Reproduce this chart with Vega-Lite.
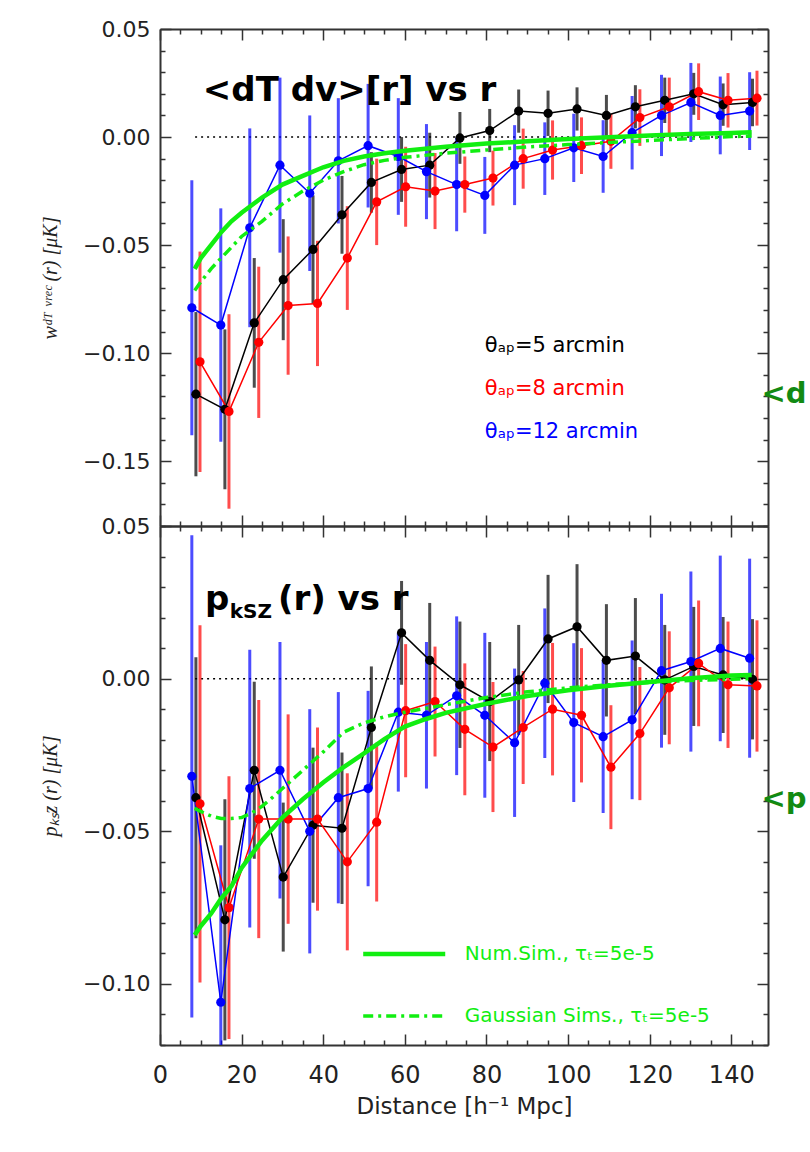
{
  "$schema": "https://vega.github.io/schema/vega-lite/v6.json",
  "background": "white",
  "padding": {"left": 40, "top": 18, "right": 0, "bottom": 5},
  "config": {"view": {"stroke": null}, "font": "DejaVu Sans", "axis": {"grid": false}},
  "spacing": 0,
  "bounds": "flush",
  "datasets": {
    "ptsTop": [
      {"series": "5", "r": 8.8, "v": -0.119, "err": 0.038},
      {"series": "5", "r": 15.9, "v": -0.126, "err": 0.037},
      {"series": "5", "r": 23.1, "v": -0.086, "err": 0.030},
      {"series": "5", "r": 30.2, "v": -0.066, "err": 0.028},
      {"series": "5", "r": 37.5, "v": -0.052, "err": 0.025},
      {"series": "5", "r": 44.6, "v": -0.036, "err": 0.018},
      {"series": "5", "r": 51.8, "v": -0.021, "err": 0.014},
      {"series": "5", "r": 59.2, "v": -0.015, "err": 0.015},
      {"series": "5", "r": 66.1, "v": -0.013, "err": 0.015},
      {"series": "5", "r": 73.5, "v": -0.0004, "err": 0.012},
      {"series": "5", "r": 80.8, "v": 0.003, "err": 0.010},
      {"series": "5", "r": 87.9, "v": 0.012, "err": 0.010},
      {"series": "5", "r": 95.1, "v": 0.011, "err": 0.0105},
      {"series": "5", "r": 102.2, "v": 0.013, "err": 0.010},
      {"series": "5", "r": 109.4, "v": 0.010, "err": 0.0095},
      {"series": "5", "r": 116.5, "v": 0.014, "err": 0.010},
      {"series": "5", "r": 123.7, "v": 0.017, "err": 0.0105},
      {"series": "5", "r": 130.8, "v": 0.020, "err": 0.0097},
      {"series": "5", "r": 138.0, "v": 0.015, "err": 0.0098},
      {"series": "5", "r": 145.2, "v": 0.016, "err": 0.011},
      {"series": "12", "r": 7.8, "v": -0.079, "err": 0.059},
      {"series": "12", "r": 14.9, "v": -0.087, "err": 0.054},
      {"series": "12", "r": 22.0, "v": -0.042, "err": 0.046},
      {"series": "12", "r": 29.4, "v": -0.013, "err": 0.0405},
      {"series": "12", "r": 36.7, "v": -0.026, "err": 0.036},
      {"series": "12", "r": 43.7, "v": -0.011, "err": 0.029},
      {"series": "12", "r": 51.0, "v": -0.004, "err": 0.0286},
      {"series": "12", "r": 58.4, "v": -0.009, "err": 0.027},
      {"series": "12", "r": 65.3, "v": -0.016, "err": 0.022},
      {"series": "12", "r": 72.7, "v": -0.022, "err": 0.0216},
      {"series": "12", "r": 79.6, "v": -0.027, "err": 0.0178},
      {"series": "12", "r": 86.9, "v": -0.013, "err": 0.0185},
      {"series": "12", "r": 94.3, "v": -0.010, "err": 0.0168},
      {"series": "12", "r": 101.4, "v": -0.005, "err": 0.0158},
      {"series": "12", "r": 108.6, "v": -0.009, "err": 0.0168},
      {"series": "12", "r": 115.7, "v": 0.002, "err": 0.017},
      {"series": "12", "r": 122.9, "v": 0.010, "err": 0.0188},
      {"series": "12", "r": 130.1, "v": 0.016, "err": 0.0183},
      {"series": "12", "r": 137.3, "v": 0.010, "err": 0.018},
      {"series": "12", "r": 144.5, "v": 0.012, "err": 0.018},
      {"series": "8", "r": 9.8, "v": -0.104, "err": 0.051},
      {"series": "8", "r": 16.9, "v": -0.127, "err": 0.045},
      {"series": "8", "r": 24.2, "v": -0.095, "err": 0.035},
      {"series": "8", "r": 31.4, "v": -0.078, "err": 0.032},
      {"series": "8", "r": 38.6, "v": -0.077, "err": 0.029},
      {"series": "8", "r": 45.9, "v": -0.056, "err": 0.024},
      {"series": "8", "r": 53.1, "v": -0.030, "err": 0.020},
      {"series": "8", "r": 60.2, "v": -0.023, "err": 0.0185},
      {"series": "8", "r": 67.4, "v": -0.025, "err": 0.0176},
      {"series": "8", "r": 74.7, "v": -0.022, "err": 0.013},
      {"series": "8", "r": 81.6, "v": -0.019, "err": 0.0127},
      {"series": "8", "r": 89.0, "v": -0.010, "err": 0.0139},
      {"series": "8", "r": 96.2, "v": -0.006, "err": 0.0137},
      {"series": "8", "r": 103.3, "v": -0.004, "err": 0.0131},
      {"series": "8", "r": 110.5, "v": -0.002, "err": 0.0127},
      {"series": "8", "r": 117.6, "v": 0.009, "err": 0.0131},
      {"series": "8", "r": 124.8, "v": 0.014, "err": 0.0135},
      {"series": "8", "r": 132.0, "v": 0.021, "err": 0.0131},
      {"series": "8", "r": 139.2, "v": 0.017, "err": 0.0126},
      {"series": "8", "r": 146.3, "v": 0.018, "err": 0.0127}
    ],
    "ptsBot": [
      {"series": "5", "r": 8.8, "v": -0.039, "err": 0.046},
      {"series": "5", "r": 15.9, "v": -0.079, "err": 0.0395},
      {"series": "5", "r": 23.1, "v": -0.030, "err": 0.029},
      {"series": "5", "r": 30.2, "v": -0.065, "err": 0.0244},
      {"series": "5", "r": 37.5, "v": -0.048, "err": 0.0254},
      {"series": "5", "r": 44.6, "v": -0.049, "err": 0.0248},
      {"series": "5", "r": 51.8, "v": -0.016, "err": 0.020},
      {"series": "5", "r": 59.2, "v": 0.015, "err": 0.017},
      {"series": "5", "r": 66.1, "v": 0.006, "err": 0.0188},
      {"series": "5", "r": 73.5, "v": -0.002, "err": 0.0207},
      {"series": "5", "r": 80.8, "v": -0.0075, "err": 0.0195},
      {"series": "5", "r": 87.9, "v": -0.0004, "err": 0.018},
      {"series": "5", "r": 95.1, "v": 0.013, "err": 0.021},
      {"series": "5", "r": 102.2, "v": 0.017, "err": 0.0205},
      {"series": "5", "r": 109.4, "v": 0.006, "err": 0.0184},
      {"series": "5", "r": 116.5, "v": 0.0074, "err": 0.019},
      {"series": "5", "r": 123.7, "v": -0.0004, "err": 0.018},
      {"series": "5", "r": 130.8, "v": 0.004, "err": 0.0195},
      {"series": "5", "r": 138.0, "v": 0.0012, "err": 0.019},
      {"series": "5", "r": 145.2, "v": -0.0002, "err": 0.0197},
      {"series": "12", "r": 7.8, "v": -0.032, "err": 0.079},
      {"series": "12", "r": 14.9, "v": -0.106, "err": 0.0514},
      {"series": "12", "r": 22.0, "v": -0.036, "err": 0.0455},
      {"series": "12", "r": 29.4, "v": -0.030, "err": 0.042},
      {"series": "12", "r": 36.7, "v": -0.050, "err": 0.040},
      {"series": "12", "r": 43.7, "v": -0.039, "err": 0.0346},
      {"series": "12", "r": 51.0, "v": -0.036, "err": 0.032},
      {"series": "12", "r": 58.4, "v": -0.011, "err": 0.026},
      {"series": "12", "r": 65.3, "v": -0.012, "err": 0.024},
      {"series": "12", "r": 72.7, "v": -0.0056, "err": 0.026},
      {"series": "12", "r": 79.6, "v": -0.012, "err": 0.027},
      {"series": "12", "r": 86.9, "v": -0.021, "err": 0.0243},
      {"series": "12", "r": 94.3, "v": -0.0015, "err": 0.0245},
      {"series": "12", "r": 101.4, "v": -0.0144, "err": 0.026},
      {"series": "12", "r": 108.6, "v": -0.019, "err": 0.025},
      {"series": "12", "r": 115.7, "v": -0.0135, "err": 0.026},
      {"series": "12", "r": 122.9, "v": 0.0026, "err": 0.0252},
      {"series": "12", "r": 130.1, "v": 0.0056, "err": 0.0295},
      {"series": "12", "r": 137.3, "v": 0.0099, "err": 0.0304},
      {"series": "12", "r": 144.5, "v": 0.0067, "err": 0.0326},
      {"series": "8", "r": 9.8, "v": -0.041, "err": 0.0585},
      {"series": "8", "r": 16.9, "v": -0.075, "err": 0.043},
      {"series": "8", "r": 24.2, "v": -0.046, "err": 0.039},
      {"series": "8", "r": 31.4, "v": -0.046, "err": 0.0343},
      {"series": "8", "r": 38.6, "v": -0.046, "err": 0.030},
      {"series": "8", "r": 45.9, "v": -0.060, "err": 0.029},
      {"series": "8", "r": 53.1, "v": -0.047, "err": 0.026},
      {"series": "8", "r": 60.2, "v": -0.0105, "err": 0.0218},
      {"series": "8", "r": 67.4, "v": -0.0075, "err": 0.018},
      {"series": "8", "r": 74.7, "v": -0.0166, "err": 0.0216},
      {"series": "8", "r": 81.6, "v": -0.0224, "err": 0.0213},
      {"series": "8", "r": 89.0, "v": -0.016, "err": 0.0185},
      {"series": "8", "r": 96.2, "v": -0.010, "err": 0.0217},
      {"series": "8", "r": 103.3, "v": -0.012, "err": 0.022},
      {"series": "8", "r": 110.5, "v": -0.029, "err": 0.0203},
      {"series": "8", "r": 117.6, "v": -0.018, "err": 0.0218},
      {"series": "8", "r": 124.8, "v": -0.003, "err": 0.0185},
      {"series": "8", "r": 132.0, "v": 0.005, "err": 0.0206},
      {"series": "8", "r": 139.2, "v": -0.002, "err": 0.0207},
      {"series": "8", "r": 146.3, "v": -0.0024, "err": 0.0215}
    ],
    "numTop": [
      {"r": 8.5, "v": -0.061}, {"r": 10, "v": -0.056}, {"r": 12.5, "v": -0.050}, {"r": 15, "v": -0.044},
      {"r": 17.5, "v": -0.039}, {"r": 20, "v": -0.035}, {"r": 25, "v": -0.028}, {"r": 30, "v": -0.022},
      {"r": 35, "v": -0.018}, {"r": 40, "v": -0.014}, {"r": 45, "v": -0.011}, {"r": 50, "v": -0.009},
      {"r": 55, "v": -0.0075}, {"r": 60, "v": -0.0063}, {"r": 70, "v": -0.0045}, {"r": 80, "v": -0.003},
      {"r": 90, "v": -0.002}, {"r": 100, "v": -0.0009}, {"r": 110, "v": -0.0001}, {"r": 120, "v": 0.0007},
      {"r": 130, "v": 0.0014}, {"r": 140, "v": 0.0019}, {"r": 145, "v": 0.0022}
    ],
    "gaussTop": [
      {"r": 8.5, "v": -0.071}, {"r": 10, "v": -0.067}, {"r": 12.5, "v": -0.061}, {"r": 15, "v": -0.056},
      {"r": 17.5, "v": -0.051}, {"r": 20, "v": -0.046}, {"r": 25, "v": -0.039}, {"r": 30, "v": -0.031},
      {"r": 35, "v": -0.025}, {"r": 40, "v": -0.020}, {"r": 45, "v": -0.016}, {"r": 50, "v": -0.0128},
      {"r": 55, "v": -0.0108}, {"r": 60, "v": -0.0094}, {"r": 70, "v": -0.0075}, {"r": 80, "v": -0.006},
      {"r": 90, "v": -0.0046}, {"r": 100, "v": -0.0035}, {"r": 110, "v": -0.0025}, {"r": 120, "v": -0.0016},
      {"r": 130, "v": -0.0007}, {"r": 140, "v": 0.0002}, {"r": 145, "v": 0.0005}
    ],
    "numBot": [
      {"r": 8.5, "v": -0.084}, {"r": 10, "v": -0.081}, {"r": 12.5, "v": -0.077}, {"r": 15, "v": -0.072},
      {"r": 17.5, "v": -0.068}, {"r": 20, "v": -0.062}, {"r": 25, "v": -0.053}, {"r": 30, "v": -0.0455},
      {"r": 35, "v": -0.0395}, {"r": 40, "v": -0.034}, {"r": 45, "v": -0.029}, {"r": 50, "v": -0.0245},
      {"r": 55, "v": -0.0198}, {"r": 60, "v": -0.0157}, {"r": 65, "v": -0.0133}, {"r": 70, "v": -0.0112},
      {"r": 80, "v": -0.0082}, {"r": 90, "v": -0.0057}, {"r": 100, "v": -0.0038}, {"r": 110, "v": -0.0023},
      {"r": 120, "v": -0.0011}, {"r": 130, "v": 0.0001}, {"r": 140, "v": 0.001}, {"r": 145, "v": 0.0012}
    ],
    "gaussBot": [
      {"r": 8.5, "v": -0.0425}, {"r": 10, "v": -0.0435}, {"r": 12.5, "v": -0.045}, {"r": 15, "v": -0.0458},
      {"r": 17.5, "v": -0.0458}, {"r": 20, "v": -0.0455}, {"r": 22.5, "v": -0.044}, {"r": 25, "v": -0.0418},
      {"r": 27.5, "v": -0.039}, {"r": 30, "v": -0.036}, {"r": 35, "v": -0.030}, {"r": 40, "v": -0.024},
      {"r": 45, "v": -0.0175}, {"r": 50, "v": -0.0145}, {"r": 55, "v": -0.0125}, {"r": 60, "v": -0.011},
      {"r": 70, "v": -0.0085}, {"r": 80, "v": -0.0062}, {"r": 90, "v": -0.0043}, {"r": 100, "v": -0.003},
      {"r": 110, "v": -0.002}, {"r": 120, "v": -0.0012}, {"r": 130, "v": -0.0006}, {"r": 140, "v": -0.0002},
      {"r": 145, "v": 0}
    ]
  },
  "vconcat": [
    {
      "width": 608,
      "height": 497,
      "resolve": {"axis": {"x": "independent", "y": "independent"}},
      "layer": [
        {
          "data": {"values": [{}]},
          "mark": {"type": "rule", "color": "#000", "strokeWidth": 1.5, "strokeDash": [2, 4]},
          "encoding": {
            "x": {"datum": 8.6, "type": "quantitative", "scale": {"domain": [0, 149], "nice": false, "zero": false}, "axis": null},
            "x2": {"datum": 145},
            "y": {"datum": 0, "type": "quantitative", "scale": {"domain": [-0.18, 0.05], "nice": false, "zero": false, "clamp": true}, "axis": null}
          }
        },
        {
          "data": {"name": "ptsTop"},
          "mark": {"type": "errorbar", "ticks": false, "thickness": 3, "rule": {"opacity": 0.7}},
          "encoding": {
            "x": {"field": "r", "type": "quantitative", "axis": null},
            "y": {"field": "v", "type": "quantitative", "axis": null},
            "yError": {"field": "err"},
            "color": {"field": "series", "type": "nominal", "scale": {"domain": ["5", "8", "12"], "range": ["#000000", "#ff0000", "#0000ff"]}, "legend": null}
          }
        },
        {
          "data": {"name": "ptsTop"},
          "mark": {"type": "line", "strokeWidth": 1.5},
          "encoding": {
            "x": {"field": "r", "type": "quantitative", "axis": {"orient": "bottom", "values": [0,5,10,15,20,25,30,35,40,45,50,55,60,65,70,75,80,85,90,95,100,105,110,115,120,125,130,135,140,145], "labels": false, "title": null, "domain": true, "domainColor": "#333", "domainWidth": 2, "ticks": true, "tickColor": "#333", "tickWidth": 1.5, "tickSize": {"condition": {"test": "datum.value % 20 == 0", "value": -11}, "value": -5}}},
            "y": {"field": "v", "type": "quantitative", "axis": {"orient": "left", "values": [-0.18,-0.17,-0.16,-0.15,-0.14,-0.13,-0.12,-0.11,-0.1,-0.09,-0.08,-0.07,-0.06,-0.05,-0.04,-0.03,-0.02,-0.01,0,0.01,0.02,0.03,0.04,0.05], "labels": false, "title": null, "domain": true, "domainColor": "#333", "domainWidth": 2, "ticks": true, "tickColor": "#333", "tickWidth": 1.5, "tickSize": {"condition": {"test": "abs(round(datum.value*100)) % 5 == 0", "value": -11}, "value": -5}}},
            "color": {"field": "series", "type": "nominal", "legend": null}
          }
        },
        {
          "data": {"name": "ptsTop"},
          "mark": {"type": "circle", "size": 85, "opacity": 1},
          "encoding": {
            "x": {"field": "r", "type": "quantitative", "axis": {"orient": "top", "values": [0,5,10,15,20,25,30,35,40,45,50,55,60,65,70,75,80,85,90,95,100,105,110,115,120,125,130,135,140,145], "labels": false, "title": null, "domain": true, "domainColor": "#333", "domainWidth": 2, "ticks": true, "tickColor": "#333", "tickWidth": 1.5, "tickSize": {"condition": {"test": "datum.value % 20 == 0", "value": -11}, "value": -5}}},
            "y": {"field": "v", "type": "quantitative", "axis": {"orient": "right", "values": [-0.18,-0.17,-0.16,-0.15,-0.14,-0.13,-0.12,-0.11,-0.1,-0.09,-0.08,-0.07,-0.06,-0.05,-0.04,-0.03,-0.02,-0.01,0,0.01,0.02,0.03,0.04,0.05], "labels": false, "title": null, "domain": true, "domainColor": "#333", "domainWidth": 2, "ticks": true, "tickColor": "#333", "tickWidth": 1.5, "tickSize": {"condition": {"test": "abs(round(datum.value*100)) % 5 == 0", "value": -11}, "value": -5}}},
            "color": {"field": "series", "type": "nominal", "legend": null}
          }
        },
        {
          "data": {"name": "numTop"},
          "mark": {"type": "line", "color": "#11ee11", "strokeWidth": 4.5},
          "encoding": {
            "x": {"field": "r", "type": "quantitative", "axis": null},
            "y": {"field": "v", "type": "quantitative", "axis": {"orient": "left", "values": [-0.15, -0.1, -0.05, 0, 0.05], "format": ".2f", "ticks": false, "domain": false, "labelFont": "DejaVu Sans", "labelFontSize": 22, "labelColor": "#222", "labelPadding": 10, "labelOverlap": false, "labelFlush": false, "title": "wᵈᵀ ᵛʳᵉᶜ (r) [μK]", "titleFont": "Liberation Serif", "titleFontSize": 20, "titleFontStyle": "italic", "titleFontWeight": "normal", "titleColor": "#222", "titlePadding": 22}}
          }
        },
        {
          "data": {"name": "gaussTop"},
          "mark": {"type": "line", "color": "#11ee11", "strokeWidth": 3.5, "strokeDash": [10, 5, 3, 5]},
          "encoding": {
            "x": {"field": "r", "type": "quantitative", "axis": null},
            "y": {"field": "v", "type": "quantitative", "axis": null}
          }
        },
        {
          "data": {"values": [{}]},
          "mark": {"type": "text", "text": "<dT dv>[r] vs r", "align": "left", "baseline": "alphabetic", "font": "DejaVu Sans", "fontSize": 34, "fontWeight": "bold", "color": "#000"},
          "encoding": {"x": {"datum": 10.5, "type": "quantitative", "axis": null}, "y": {"datum": 0.0168, "type": "quantitative", "axis": null}}
        },
        {
          "data": {"values": [{}]},
          "mark": {"type": "text", "text": "θₐₚ=5 arcmin", "align": "left", "baseline": "middle", "font": "DejaVu Sans", "fontSize": 21, "color": "#000"},
          "encoding": {"x": {"datum": 79.6, "type": "quantitative", "axis": null}, "y": {"datum": -0.0966, "type": "quantitative", "axis": null}}
        },
        {
          "data": {"values": [{}]},
          "mark": {"type": "text", "text": "θₐₚ=8 arcmin", "align": "left", "baseline": "middle", "font": "DejaVu Sans", "fontSize": 21, "color": "#ff0000"},
          "encoding": {"x": {"datum": 79.6, "type": "quantitative", "axis": null}, "y": {"datum": -0.1166, "type": "quantitative", "axis": null}}
        },
        {
          "data": {"values": [{}]},
          "mark": {"type": "text", "text": "θₐₚ=12 arcmin", "align": "left", "baseline": "middle", "font": "DejaVu Sans", "fontSize": 21, "color": "#0000ff"},
          "encoding": {"x": {"datum": 79.6, "type": "quantitative", "axis": null}, "y": {"datum": -0.1367, "type": "quantitative", "axis": null}}
        },
        {
          "data": {"values": [{}]},
          "mark": {"type": "text", "text": "<d", "align": "left", "baseline": "alphabetic", "font": "DejaVu Sans", "fontSize": 29, "fontWeight": "bold", "color": "#128a12"},
          "encoding": {"x": {"datum": 147.4, "type": "quantitative", "axis": null}, "y": {"datum": -0.123, "type": "quantitative", "axis": null}}
        }
      ]
    },
    {
      "width": 608,
      "height": 519,
      "resolve": {"axis": {"x": "independent", "y": "independent"}},
      "layer": [
        {
          "data": {"values": [{}]},
          "mark": {"type": "rule", "color": "#000", "strokeWidth": 1.5, "strokeDash": [2, 4]},
          "encoding": {
            "x": {"datum": 8.6, "type": "quantitative", "scale": {"domain": [0, 149], "nice": false, "zero": false}, "axis": null},
            "x2": {"datum": 145},
            "y": {"datum": 0, "type": "quantitative", "scale": {"domain": [-0.12, 0.05], "nice": false, "zero": false, "clamp": true}, "axis": null}
          }
        },
        {
          "data": {"name": "ptsBot"},
          "mark": {"type": "errorbar", "ticks": false, "thickness": 3, "rule": {"opacity": 0.7}},
          "encoding": {
            "x": {"field": "r", "type": "quantitative", "axis": null},
            "y": {"field": "v", "type": "quantitative", "axis": null},
            "yError": {"field": "err"},
            "color": {"field": "series", "type": "nominal", "scale": {"domain": ["5", "8", "12"], "range": ["#000000", "#ff0000", "#0000ff"]}, "legend": null}
          }
        },
        {
          "data": {"name": "ptsBot"},
          "mark": {"type": "line", "strokeWidth": 1.5},
          "encoding": {
            "x": {"field": "r", "type": "quantitative", "axis": {"orient": "bottom", "values": [0,5,10,15,20,25,30,35,40,45,50,55,60,65,70,75,80,85,90,95,100,105,110,115,120,125,130,135,140,145], "labels": false, "title": null, "domain": true, "domainColor": "#333", "domainWidth": 2, "ticks": true, "tickColor": "#333", "tickWidth": 1.5, "tickSize": {"condition": {"test": "datum.value % 20 == 0", "value": -11}, "value": -5}}},
            "y": {"field": "v", "type": "quantitative", "axis": {"orient": "left", "values": [-0.12,-0.11,-0.1,-0.09,-0.08,-0.07,-0.06,-0.05,-0.04,-0.03,-0.02,-0.01,0,0.01,0.02,0.03,0.04,0.05], "labels": false, "title": null, "domain": true, "domainColor": "#333", "domainWidth": 2, "ticks": true, "tickColor": "#333", "tickWidth": 1.5, "tickSize": {"condition": {"test": "abs(round(datum.value*100)) % 5 == 0", "value": -11}, "value": -5}}},
            "color": {"field": "series", "type": "nominal", "legend": null}
          }
        },
        {
          "data": {"name": "ptsBot"},
          "mark": {"type": "circle", "size": 85, "opacity": 1},
          "encoding": {
            "x": {"field": "r", "type": "quantitative", "axis": {"orient": "top", "values": [0,5,10,15,20,25,30,35,40,45,50,55,60,65,70,75,80,85,90,95,100,105,110,115,120,125,130,135,140,145], "labels": false, "title": null, "domain": true, "domainColor": "#333", "domainWidth": 2, "ticks": true, "tickColor": "#333", "tickWidth": 1.5, "tickSize": {"condition": {"test": "datum.value % 20 == 0", "value": -11}, "value": -5}}},
            "y": {"field": "v", "type": "quantitative", "axis": {"orient": "right", "values": [-0.12,-0.11,-0.1,-0.09,-0.08,-0.07,-0.06,-0.05,-0.04,-0.03,-0.02,-0.01,0,0.01,0.02,0.03,0.04,0.05], "labels": false, "title": null, "domain": true, "domainColor": "#333", "domainWidth": 2, "ticks": true, "tickColor": "#333", "tickWidth": 1.5, "tickSize": {"condition": {"test": "abs(round(datum.value*100)) % 5 == 0", "value": -11}, "value": -5}}},
            "color": {"field": "series", "type": "nominal", "legend": null}
          }
        },
        {
          "data": {"name": "numBot"},
          "mark": {"type": "line", "color": "#11ee11", "strokeWidth": 4.5},
          "encoding": {
            "x": {"field": "r", "type": "quantitative", "axis": {"orient": "bottom", "values": [0, 20, 40, 60, 80, 100, 120, 140], "format": "d", "ticks": false, "domain": false, "labelFont": "DejaVu Sans", "labelFontSize": 24, "labelColor": "#222", "labelPadding": 18, "labelFlush": false, "labelOverlap": false, "title": "Distance [h⁻¹ Mpc]", "titleFont": "DejaVu Sans", "titleFontSize": 23, "titleFontWeight": "normal", "titleColor": "#222", "titlePadding": 8}},
            "y": {"field": "v", "type": "quantitative", "axis": {"orient": "left", "values": [-0.1, -0.05, 0, 0.05], "format": ".2f", "ticks": false, "domain": false, "labelFont": "DejaVu Sans", "labelFontSize": 22, "labelColor": "#222", "labelPadding": 10, "labelOverlap": false, "labelFlush": false, "title": "pₖₛz (r) [μK]", "titleFont": "Liberation Serif", "titleFontSize": 20, "titleFontStyle": "italic", "titleFontWeight": "normal", "titleColor": "#222", "titlePadding": 22}}
          }
        },
        {
          "data": {"name": "gaussBot"},
          "mark": {"type": "line", "color": "#11ee11", "strokeWidth": 3.5, "strokeDash": [10, 5, 3, 5]},
          "encoding": {
            "x": {"field": "r", "type": "quantitative", "axis": null},
            "y": {"field": "v", "type": "quantitative", "axis": null}
          }
        },
        {
          "data": {"values": [{}]},
          "mark": {"type": "text", "text": "p", "align": "left", "baseline": "alphabetic", "font": "DejaVu Sans", "fontSize": 34, "fontWeight": "bold", "color": "#000"},
          "encoding": {"x": {"datum": 11.0, "type": "quantitative", "axis": null}, "y": {"datum": 0.0225, "type": "quantitative", "axis": null}}
        },
        {
          "data": {"values": [{}]},
          "mark": {"type": "text", "text": "kSZ", "align": "left", "baseline": "alphabetic", "font": "DejaVu Sans", "fontSize": 20, "fontWeight": "bold", "color": "#000"},
          "encoding": {"x": {"datum": 17.1, "type": "quantitative", "axis": null}, "y": {"datum": 0.0199, "type": "quantitative", "axis": null}}
        },
        {
          "data": {"values": [{}]},
          "mark": {"type": "text", "text": "(r) vs r", "align": "left", "baseline": "alphabetic", "font": "DejaVu Sans", "fontSize": 34, "fontWeight": "bold", "color": "#000"},
          "encoding": {"x": {"datum": 28.9, "type": "quantitative", "axis": null}, "y": {"datum": 0.0225, "type": "quantitative", "axis": null}}
        },
        {
          "data": {"values": [{}]},
          "mark": {"type": "rule", "color": "#11ee11", "strokeWidth": 4.5},
          "encoding": {"x": {"datum": 49.8, "type": "quantitative", "axis": null}, "x2": {"datum": 69.9}, "y": {"datum": -0.0902, "type": "quantitative", "axis": null}}
        },
        {
          "data": {"values": [{}]},
          "mark": {"type": "rule", "color": "#11ee11", "strokeWidth": 3.5, "strokeDash": [10, 5, 3, 5]},
          "encoding": {"x": {"datum": 49.8, "type": "quantitative", "axis": null}, "x2": {"datum": 69.9}, "y": {"datum": -0.1105, "type": "quantitative", "axis": null}}
        },
        {
          "data": {"values": [{}]},
          "mark": {"type": "text", "text": "Num.Sim., τₜ=5e-5", "align": "left", "baseline": "middle", "font": "DejaVu Sans", "fontSize": 20, "color": "#11ee11"},
          "encoding": {"x": {"datum": 74.7, "type": "quantitative", "axis": null}, "y": {"datum": -0.0902, "type": "quantitative", "axis": null}}
        },
        {
          "data": {"values": [{}]},
          "mark": {"type": "text", "text": "Gaussian Sims., τₜ=5e-5", "align": "left", "baseline": "middle", "font": "DejaVu Sans", "fontSize": 20, "color": "#11ee11"},
          "encoding": {"x": {"datum": 74.7, "type": "quantitative", "axis": null}, "y": {"datum": -0.1105, "type": "quantitative", "axis": null}}
        },
        {
          "data": {"values": [{}]},
          "mark": {"type": "text", "text": "<p", "align": "left", "baseline": "alphabetic", "font": "DejaVu Sans", "fontSize": 29, "fontWeight": "bold", "color": "#128a12"},
          "encoding": {"x": {"datum": 147.4, "type": "quantitative", "axis": null}, "y": {"datum": -0.0425, "type": "quantitative", "axis": null}}
        }
      ]
    }
  ]
}
